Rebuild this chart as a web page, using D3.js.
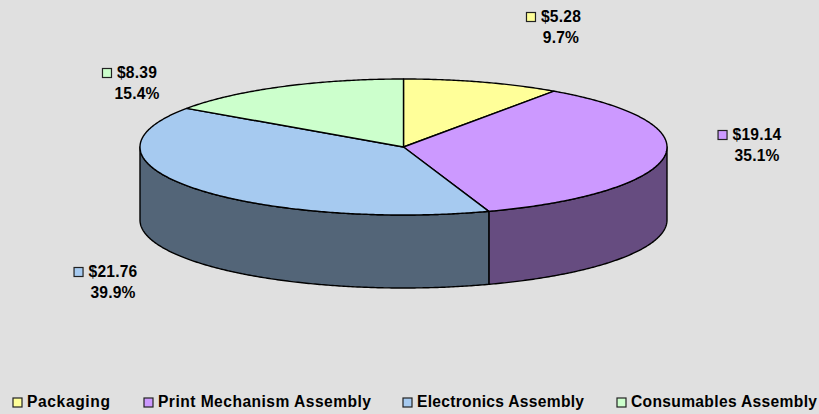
<!DOCTYPE html>
<html>
<head>
<meta charset="utf-8">
<script src="https://cdn.jsdelivr.net/npm/d3@7"></script>
<style>
  html, body { margin: 0; padding: 0; background: #e0e0e0; }
  svg { display: block; }
  text { font-family: "Liberation Sans", Arial, sans-serif; font-weight: bold; fill: #000; }
</style>
</head>
<body>
<div id="wrapper"></div>
<script>
const categories = ['Packaging', 'Print Mechanism Assembly', 'Electronics Assembly', 'Consumables Assembly'];
const costs = [5.28, 19.14, 21.76, 8.39];
const topColors = ['#ffff99', '#cc99ff', '#a6caf0', '#ccffcc'];
const sideColors = ['#808066', '#664c80', '#536578', '#668066'];

// where the data labels and legend entries sit
const labelCenters = [[561, 22], [757, 140], [113, 277], [137, 78]];
const legendLefts = [13, 144, 403, 617];
const legendTextWidths = [83, 213, 167, 186];

const dimensions = { width: 819, height: 414, depth: 73, legendY: 407, fontSize: 15.6 };

const wrapper = d3.select('#wrapper')
  .append('svg')
    .attr('width', dimensions.width)
    .attr('height', dimensions.height);

wrapper.append('rect')
    .attr('width', dimensions.width)
    .attr('height', dimensions.height)
    .attr('fill', '#e0e0e0');

// pie is an ellipse lying flat: unit circle mapped to the top face
const xScale = d3.scaleLinear().domain([-1, 1]).range([140, 667]);
const yScale = d3.scaleLinear().domain([-1, 1]).range([79, 215]);

const px = a => xScale(Math.sin(a));
const py = a => yScale(-Math.cos(a));
const anglesBetween = (a, b) => d3.range(a, b, Math.PI / 360).concat(b);

const slices = d3.pie().sort(null)(costs);
const total = d3.sum(costs);
const money = d3.format('$.2f');
const percent = d3.format('.1%');

// side wall, only the front half is visible
const sideArea = d3.area()
    .x(a => px(a))
    .y0(a => py(a))
    .y1(a => py(a) + dimensions.depth);

slices.forEach(s => {
  const from = Math.max(s.startAngle, Math.PI / 2);
  const to = Math.min(s.endAngle, Math.PI * 3 / 2);
  if (from >= to) return;
  wrapper.append('path')
      .attr('d', sideArea(anglesBetween(from, to)))
      .attr('fill', sideColors[s.index])
      .attr('stroke', '#000')
      .attr('stroke-width', 1.4)
      .attr('stroke-linejoin', 'round');
});

const topLine = d3.line().x(d => d[0]).y(d => d[1]);

slices.forEach(s => {
  const rim = anglesBetween(s.startAngle, s.endAngle).map(a => [px(a), py(a)]);
  const centre = [xScale(0), yScale(0)];
  wrapper.append('path')
      .attr('d', topLine([centre, ...rim]) + 'Z')
      .attr('fill', topColors[s.index])
      .attr('stroke', '#000')
      .attr('stroke-width', 1.4)
      .attr('stroke-linejoin', 'round');
});

function swatch(x, y, color) {
  wrapper.append('rect')
      .attr('x', x)
      .attr('y', y)
      .attr('width', 9)
      .attr('height', 9)
      .attr('fill', color)
      .attr('stroke', '#222')
      .attr('stroke-width', 1.2);
}

// data labels, two centred lines with a small key in front of the first
slices.forEach(s => {
  const [cx, baseline] = labelCenters[s.index];
  const first = wrapper.append('text')
      .attr('x', cx)
      .attr('y', baseline)
      .attr('text-anchor', 'middle')
      .attr('font-size', dimensions.fontSize)
      .attr('letter-spacing', 0.2)
      .text(money(costs[s.index]));
  wrapper.append('text')
      .attr('x', cx)
      .attr('y', baseline + 21)
      .attr('text-anchor', 'middle')
      .attr('font-size', dimensions.fontSize)
      .attr('letter-spacing', 0.2)
      .text(percent(costs[s.index] / total));
  const w = first.node().getComputedTextLength();
  swatch(cx - w / 2 - 14.5, baseline - 9.5, topColors[s.index]);
});

categories.forEach((name, i) => {
  swatch(legendLefts[i], dimensions.legendY - 9, topColors[i]);
  wrapper.append('text')
      .attr('x', legendLefts[i] + 14)
      .attr('y', dimensions.legendY)
      .attr('font-size', dimensions.fontSize)
      .attr('textLength', legendTextWidths[i])
      .attr('lengthAdjust', 'spacing')
      .text(name);
});
</script>
</body>
</html>
